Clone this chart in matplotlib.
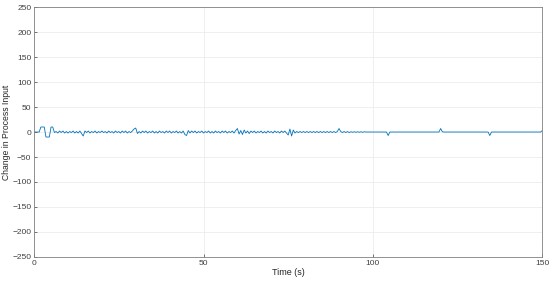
import numpy as np
import matplotlib.pyplot as plt

plt.rcParams['font.family'] = ['Liberation Sans', 'DejaVu Sans']

# sampled every 0.5 s from 0 to 150 s
step = 0.5
u = [
    # 0 - 9.5
    0, 0, 0, 0, 10, 10, 10, -10, -10, -10, 10, 10, -1, 1, -2, 2, -1, 2, -2, 1,
    # 10 - 19.5
    -2, 1, -1, 2, -2, 1, -2, 2, -3, -8, 2, -1, 2, -2, 1, -1, 2, -2, 1, -1,
    # 20 - 29.5
    2, -1, 1, -2, 2, -1, 1, -2, 2, -1, 1, -2, 2, -1, 2, -2, 1, -1, 2, 6,
    # 30 - 39.5
    8, -3, 1, -2, 2, -1, 2, -2, 1, -1, 2, -2, 1, -2, 2, -1, 1, -2, 2, -1,
    # 40 - 49.5
    2, -2, 1, -1, 2, -2, 1, -2, 2, -5, -7, 3, -2, 2, -1, 2, -2, 1, -1, 2,
    # 50 - 59.5
    -2, 1, -1, 2, -2, 1, -2, 2, -1, 1, -2, 2, -1, 2, -2, 1, -1, 2, -2, 3,
    # 60 - 69.5
    7, -4, 3, -5, 4, -2, 2, -3, 2, -1, 2, -2, 1, -1, 2, -2, 1, -2, 2, -1,
    # 70 - 79.5
    1, -2, 2, -1, 1, -2, 2, -1, 2, -2, -6, 6, -8, 4, -2, 1, -1, 1, -1, 1,
    # 80 - 89.5
    -1, 1, -1, 1, -1, 1, -1, 1, -1, 1, -1, 1, -1, 1, -1, 1, -1, 1, -1, 1,
    # 90 - 99.5
    7, 1, -1, 1, -1, 1, -1, 0.5, -0.5, 0.5, -0.5, 0.5, -0.5, 0.5, -0.5, 0.5, 0, 0, 0, 0,
    # 100 - 109.5
    0, 0, 0, 0, 0, 0, 0, 0, 0, -7, 0, 0, 0, 0, 0, 0, 0, 0, 0, 0,
    # 110 - 119.5
    0, 0, 0, 0, 0, 0, 0, 0, 0, 0, 0, 0, 0, 0, 0, 0, 0, 0, 0, 0,
    # 120 - 129.5
    7, 0.5, 0, 0, 0, 0, 0, 0, 0, 0, 0, 0, 0, 0, 0, 0, 0, 0, 0, 0,
    # 130 - 139.5
    0, 0, 0, 0, 0, 0, 0, 0, 0, -7, 0, 0, 0, 0, 0, 0, 0, 0, 0, 0,
    # 140 - 150
    0, 0, 0, 0, 0, 0, 0, 0, 0, 0, 0, 0, 0, 0, 0, 0, 0, 0, 0, 0, 3,
]
t = np.arange(len(u)) * step

xticks = [0, 50, 100, 150]
yticks = list(range(-250, 251, 50))

fig = plt.figure(figsize=(5.5, 2.83), dpi=100)
ax = fig.add_axes([0.062, 0.092, 0.924, 0.883])

ax.plot(t, u, color='#0072BD', linewidth=0.6)

ax.set_xlim(0, 150)
ax.set_ylim(-250, 250)
ax.set_xticks(xticks)
ax.set_yticks(yticks)
ax.grid(True, color='#ececec', linewidth=0.6)
ax.set_axisbelow(True)

ax.tick_params(direction='in', length=2.5, labelsize=6, colors='#404040', width=0.5, pad=2)
for s in ax.spines.values():
    s.set_color('#808080')
    s.set_linewidth(0.6)

ax.set_xlabel('Time (s)', fontsize=6.5, color='#262626', labelpad=1)
ax.set_ylabel('Change in Process Input', fontsize=6.2, color='#262626', labelpad=1)

plt.savefig('out.png')
